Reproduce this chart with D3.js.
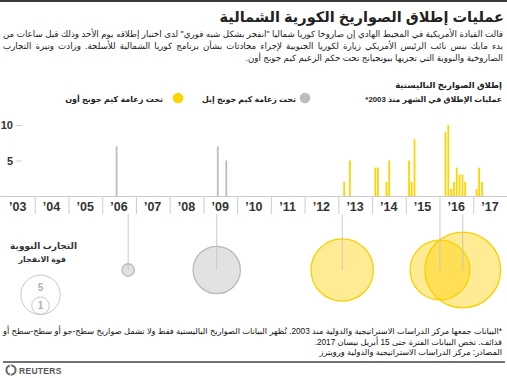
<!DOCTYPE html>
<html><head><meta charset="utf-8">
<script src="https://cdn.jsdelivr.net/npm/d3@7"></script>
<style>
html,body{margin:0;padding:0;background:#fff;}
svg{display:block;}
</style></head><body>
<svg id="c" width="507" height="378"></svg>
<script>
// ---------------- data ----------------
const title = "عمليات إطلاق الصواريخ الكورية الشمالية";
const introLines = [
  "قالت القيادة الأمريكية في المحيط الهادي إن صاروخا كوريا شماليا \"انفجر بشكل شبه فوري\" لدى اختبار إطلاقه يوم الأحد وذلك قبل ساعات من",
  "بدء مايك بنس نائب الرئيس الأمريكي زيارة لكوريا الجنوبية لإجراء محادثات بشأن برنامج كوريا الشمالية للأسلحة. وزادت وتيرة التجارب",
  "الصاروخية والنووية التي تجريها بيونجيانج تحت حكم الزعيم كيم جونج أون."
];
const chartTitle = "إطلاق الصواريخ الباليستية";
const chartSub = "عمليات الإطلاق في الشهر منذ 2003*";
const legendIl = "تحت زعامة كيم جونج إيل";
const legendUn = "تحت زعامة كيم جونج أون";
const nukeTitle = "التجارب النووية";
const nukeSub = "قوة الانفجار";
const footLines = [
  "*البيانات جمعها مركز الدراسات الاستراتيجية والدولية منذ 2003. تُظهر البيانات الصواريخ الباليستية فقط ولا تشمل صواريخ سطح-جو أو سطح-سطح أو",
  "قذائف. تخص البيانات الفترة حتى 15 أبريل نيسان 2017.",
  "المصادر: مركز الدراسات الاستراتيجية والدولية ورويترز"
];

const years = [2003,2004,2005,2006,2007,2008,2009,2010,2011,2012,2013,2014,2015,2016,2017];
const yearLabels = ["’03","’04","’05","’06","’07","’08","’09","’10","’11","’12","’13","’14","’15","’16","’17"];
const yTicks = [5, 10];

// Kim Jong Il era launches per month
const ilMonths   = ["2006-06","2009-06","2009-09"];
const ilLaunches = [7, 7, 5];
// Kim Jong Un era launches per month
const unMonths   = ["2013-03","2013-05","2014-02","2014-03","2014-06","2014-07",
                    "2015-02","2015-03","2015-04",
                    "2016-03","2016-04","2016-05","2016-06","2016-07","2016-08","2016-09","2016-10",
                    "2017-02","2017-03","2017-04"];
const unLaunches = [2,5,4,4,2,5, 5,2,8, 9,10,1,2,4,3,3,2, 1,4,2];

const nukeDates  = ["2006-10-09","2009-05-25","2013-02-12","2016-01-06","2016-09-09"];
const nukeYields = [0.5, 7.2, 12.5, 11.5, 18.5];
const nukeLeader = ["il","il","un","un","un"];
const yieldLegend = [5, 1];

// ---------------- drawing ----------------
const W = 507, H = 378;
const AR = "'Liberation Sans', Arial, 'DejaVu Sans', sans-serif";
const svg = d3.select("#c");
const YEL = "#ffd400", GRY = "#bdbdbd";

const parse = s => { const p = s.split("-").map(Number); return new Date(Date.UTC(p[0], p[1]-1, p[2]||1)); };

const x = d3.scaleUtc().domain([Date.UTC(2003,0,1), Date.UTC(2018,0,1)]).range([1, 507]);
const y = d3.scaleLinear().domain([0, 10]).range([196, 125]);
const r = d3.scaleSqrt().domain([0, 5]).range([0, 19.7]);

// top rule
svg.append("rect").attr("x",0).attr("y",0).attr("width",W).attr("height",2).attr("fill","#3a3a3a");

function arText(txt, xr, yb, size, weight, fill){
  return svg.append("text").attr("x", xr).attr("y", yb)
    .attr("direction","rtl").attr("text-anchor","start")
    .attr("font-family", AR).attr("font-size", size).attr("font-weight", weight)
    .attr("fill", fill).text(txt);
}
function fitSize(sel, target){
  const w = sel.node().getComputedTextLength();
  return parseFloat(sel.attr("font-size")) * target / w;
}
function fit(sel, target){
  const fs = fitSize(sel, target);
  sel.attr("font-size", fs);
  return fs;
}
function justify(sel, target){
  const w = sel.node().getComputedTextLength();
  const n = (sel.text().match(/ /g) || []).length;
  if (n && target > w) sel.attr("word-spacing", (target - w) / n);
}
// paragraph: one font size that fits every line in its width, then justify
function paragraph(lines, xr, y0, lh, widths, justifyFlags, weight, fill){
  const sels = lines.map((l, i) => arText(l, xr, y0 + i*lh, 10, weight, fill));
  const fs = d3.min(sels, (s, i) => fitSize(s, widths[i]));
  sels.forEach(s => s.attr("font-size", fs));
  sels.forEach((s, i) => { if (justifyFlags[i]) justify(s, widths[i]); });
  return sels;
}

// title
fit(arText(title, 504, 22, 19, "bold", "#222"), 285);

// intro
paragraph(introLines, 503, 37, 12, [500, 500, 266], [true, true, false], "normal", "#222");

// chart header
fit(arText(chartTitle, 502, 88, 11.5, "bold", "#222"), 107);
fit(arText(chartSub, 502, 102, 11, "bold", "#222"), 137);

// legend
svg.append("circle").attr("cx",305).attr("cy",98).attr("r",5.3).attr("fill",GRY);
fit(arText(legendIl, 296, 101.5, 10.5, "bold", "#222"), 94);
svg.append("circle").attr("cx",178).attr("cy",98).attr("r",5.3).attr("fill",YEL);
fit(arText(legendUn, 163, 101.5, 10.5, "bold", "#222"), 98);

// y axis
const ya = svg.append("g").attr("transform","translate(16,0)")
  .call(d3.axisLeft(y).tickValues(yTicks).tickSize(-6).tickPadding(3));
ya.select(".domain").remove();
ya.selectAll(".tick line").attr("stroke","#ccc");
ya.selectAll(".tick text").attr("font-family","'Liberation Sans', Arial, sans-serif")
  .attr("font-size",11).attr("font-weight","bold").attr("fill","#333");

// x axis: baseline + year dividers
svg.append("line").attr("x1",0).attr("x2",W).attr("y1",196.5).attr("y2",196.5)
  .attr("stroke","#ccc").attr("stroke-width",1);
const xa = svg.append("g").attr("transform","translate(0,196)")
  .call(d3.axisBottom(x).tickValues(years.slice(1).map(yr => new Date(Date.UTC(yr,0,1))))
        .tickSize(18).tickFormat(""));
xa.select(".domain").remove();
xa.selectAll(".tick line").attr("stroke","#ccc");
svg.append("g").selectAll("text").data(years).join("text")
  .attr("x", (yr) => x(new Date(Date.UTC(yr,6,1))))
  .attr("y", 210.5)
  .attr("text-anchor","middle")
  .attr("font-family","'Liberation Sans', Arial, sans-serif")
  .attr("font-size",12.5).attr("font-weight","bold").attr("fill","#333")
  .text((d,i) => yearLabels[i]);

// bars
const ilData = ilMonths.map((m,i) => ({d: parse(m), v: ilLaunches[i]}));
const unData = unMonths.map((m,i) => ({d: parse(m), v: unLaunches[i]}));
function bars(data, color){
  svg.append("g").selectAll("rect").data(data).join("rect")
    .attr("x", d => x(d.d) - 0.5).attr("width", 1.8)
    .attr("y", d => y(d.v)).attr("height", d => y(0) - y(d.v))
    .attr("fill", color);
}
bars(ilData, GRY);
bars(unData, YEL);

// nuclear tests
const CY = 270;
const nukes = nukeDates.map((d,i) => ({d: parse(d), v: nukeYields[i], who: nukeLeader[i]}));
svg.append("g").selectAll("circle").data(nukes).join("circle")
  .attr("cx", d => x(d.d)).attr("cy", CY).attr("r", d => r(d.v))
  .attr("fill", d => d.who === "il" ? "#e2e2e2" : "rgba(255,208,0,0.42)")
  .attr("stroke", d => d.who === "il" ? "#b9b9b9" : "#f8d000")
  .attr("stroke-width", 1.3);
svg.append("g").selectAll("line").data(nukes).join("line")
  .attr("x1", d => x(d.d)).attr("x2", d => x(d.d))
  .attr("y1", 214).attr("y2", CY)
  .attr("stroke", "#c4c4c4").attr("stroke-width", 1).attr("stroke-opacity",0.9);

// nuclear legend
const ntSize = fit(arText(nukeTitle, 77, 249, 12, "bold", "#333"), 67);
arText(nukeSub, 66, 262, ntSize * 0.88, "bold", "#333");
const LB = 314.5, LX = 40.5;
svg.append("g").selectAll("circle").data(yieldLegend).join("circle")
  .attr("cx", LX).attr("cy", d => LB - r(d)).attr("r", d => r(d))
  .attr("fill","none").attr("stroke","#c8c8c8").attr("stroke-width",1);
svg.append("g").selectAll("text").data(yieldLegend).join("text")
  .attr("x", LX).attr("y", d => LB - 2*r(d) + Math.min(r(d), 12.5) + 3.5)
  .attr("text-anchor","middle")
  .attr("font-family","'Liberation Sans', Arial, sans-serif")
  .attr("font-size",10).attr("font-weight","bold").attr("fill","#b0b0b0")
  .text(d => d);

// footnote
paragraph(footLines, 502, 334, 10.5, [499, 310, 210], [true, false, false], "normal", "#111");

// bottom rule
svg.append("line").attr("x1",3).attr("x2",505).attr("y1",362).attr("y2",362)
  .attr("stroke","#444").attr("stroke-width",1.5);

// Reuters logo
const lg = svg.append("g").attr("transform","translate(11,370)");
lg.append("circle").attr("r",4.6).attr("fill","none").attr("stroke","#666").attr("stroke-width",2);
lg.append("path").attr("d","M-1,-5 L2,0 L-1,5").attr("fill","none").attr("stroke","#fff").attr("stroke-width",1.2);
svg.append("text").attr("x",19).attr("y",373.5)
  .attr("font-family","'Liberation Sans', Arial, sans-serif")
  .attr("font-size",8.5).attr("font-weight","bold").attr("fill","#555")
  .attr("letter-spacing",0.3).text("REUTERS");
</script>
</body></html>
